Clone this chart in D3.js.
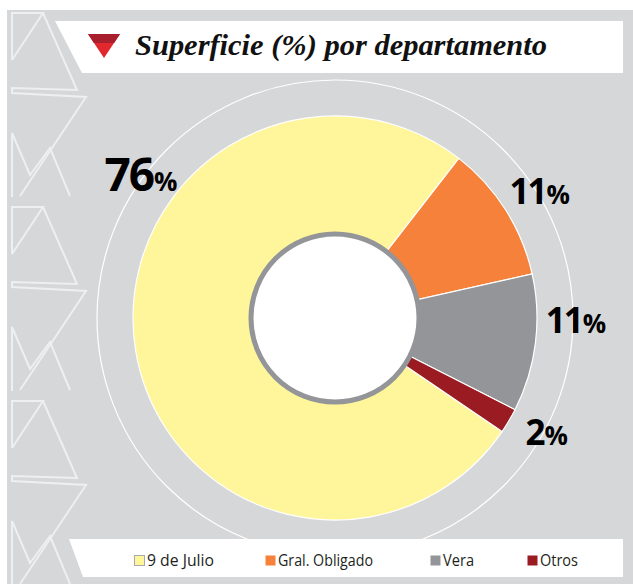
<!DOCTYPE html>
<html>
<head>
<meta charset="utf-8">
<script src="https://cdn.jsdelivr.net/npm/d3@7"></script>
<style>
  html, body { margin: 0; padding: 0; background: #fff; }
  svg { display: block; }
</style>
</head>
<body>
<div id="chart"></div>
<script>
const width = 633;
const height = 584;

// data
const categories = ["9 de Julio", "Gral. Obligado", "Vera", "Otros"];
const values = [76, 11, 11, 2];
const labels = ["76", "11", "11", "2"];
const colors = ["#fff59b", "#f5813a", "#939598", "#9a1c22"];

// layout (degrees, clockwise from 12 o'clock) for the outside labels
const labelAngles = [-53.6, 58.2, 90.6, 118.5];
const legendX = [134, 265, 430, 527];
const legendW = [67, 95, 31, 38];

const cx = 335, cy = 318;
const radius = 202;
const holeRadius = 84;
const ringRadius = 238;
const labelRadius = 241;

const svg = d3.select("#chart")
  .append("svg")
  .attr("width", width)
  .attr("height", height);

// grey panel
svg.append("rect")
  .attr("x", 7).attr("y", 10)
  .attr("width", width - 7).attr("height", height - 10)
  .attr("fill", "#d6d7d9");

// decorative outlines down the left edge
const deco = svg.append("g")
  .attr("fill", "none")
  .attr("stroke", "#eeeff0")
  .attr("stroke-width", 2)
  .attr("stroke-linejoin", "miter");

const unit = [
  [[12, 60], [12, 13], [43, 13], [12, 60]],
  [[43, 13], [77, 90], [12, 88], [12, 93], [86, 97], [20, 196]],
  [[12, 197], [12, 133], [30, 175], [50, 148], [70, 196]]
];
[0, 194, 388].forEach(off => {
  unit.forEach(pts => {
    deco.append("path")
      .attr("d", d3.line()(pts.map(p => [p[0], p[1] + off])));
  });
});

// outer thin ring
svg.append("circle")
  .attr("cx", cx).attr("cy", cy)
  .attr("r", ringRadius)
  .attr("fill", "none")
  .attr("stroke", "#ffffff")
  .attr("stroke-width", 1.2);

// title banner
svg.append("polygon")
  .attr("points", "55,21 623,21 623,73 82,73")
  .attr("fill", "#ffffff");

svg.append("polygon")
  .attr("points", "88,34 120,34 104,58")
  .attr("fill", "#e2272f");
svg.append("polygon")
  .attr("points", "88,34 120,34 114.1,43 93.9,43")
  .attr("fill", "#a81f2e");

svg.append("text")
  .attr("x", 135).attr("y", 55)
  .attr("font-family", "'Liberation Serif', serif")
  .attr("font-style", "italic")
  .attr("font-weight", "bold")
  .attr("font-size", 29)
  .attr("textLength", 412)
  .attr("lengthAdjust", "spacingAndGlyphs")
  .attr("fill", "#111")
  .text("Superficie (%) por departamento");

// donut
const g = svg.append("g")
  .attr("transform", `translate(${cx},${cy})`);

const start = 124.2 * Math.PI / 180;
const pie = d3.pie()
  .sort(null)
  .value(d => d)
  .startAngle(start)
  .endAngle(start + 2 * Math.PI);

const arc = d3.arc()
  .innerRadius(holeRadius - 2)
  .outerRadius(radius);

g.selectAll("path.slice")
  .data(pie(values))
  .enter()
  .append("path")
  .attr("class", "slice")
  .attr("d", arc)
  .attr("fill", (d, i) => colors[i])
  .attr("stroke", "#ffffff")
  .attr("stroke-width", 1.2);

// centre disc
g.append("circle")
  .attr("r", holeRadius)
  .attr("fill", "#ffffff")
  .attr("stroke", "#939598")
  .attr("stroke-width", 5);

// percentage labels
const big = [46, 35, 35, 35];
labels.forEach((t, i) => {
  const a = labelAngles[i] * Math.PI / 180;
  const x = labelRadius * Math.sin(a);
  const y = -labelRadius * Math.cos(a);
  const txt = g.append("text")
    .attr("x", x)
    .attr("y", y + big[i] * 0.357)
    .attr("text-anchor", "middle")
    .attr("font-family", "'Open Sans', sans-serif")
    .attr("font-weight", "bold")
    .attr("fill", "#000");
  txt.append("tspan")
    .attr("font-size", big[i])
    .attr("letter-spacing", -2)
    .text(t);
  txt.append("tspan")
    .attr("font-size", 26)
    .attr("dx", 1)
    .text("%");
});

// legend banner
svg.append("polygon")
  .attr("points", "69,539 623,539 623,577 83,577")
  .attr("fill", "#ffffff");

const legend = svg.append("g");
categories.forEach((c, i) => {
  legend.append("rect")
    .attr("x", legendX[i] + 0.5).attr("y", 555.5)
    .attr("width", 10).attr("height", 10)
    .attr("fill", colors[i])
    .attr("stroke", i === 0 ? "#a7a9ab" : "none")
    .attr("stroke-width", 1);
  legend.append("text")
    .attr("x", legendX[i] + 13)
    .attr("y", 566)
    .attr("font-family", "'Open Sans', sans-serif")
    .attr("font-size", 17)
    .attr("textLength", legendW[i])
    .attr("lengthAdjust", "spacingAndGlyphs")
    .attr("fill", "#231f20")
    .text(c);
});
</script>
</body>
</html>
